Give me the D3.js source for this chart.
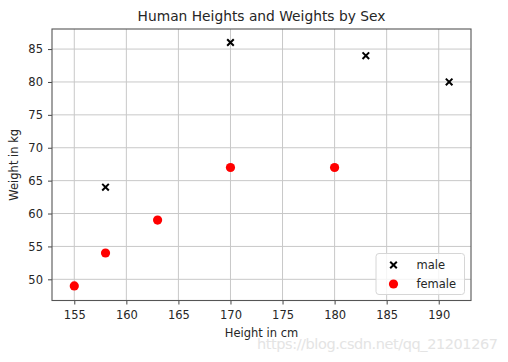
<!DOCTYPE html>
<html>
<head>
<meta charset="utf-8">
<script src="https://cdn.jsdelivr.net/npm/d3@7"></script>
<style>
  body { margin: 0; background: #fff; }
  text { font-family: "DejaVu Sans", sans-serif; fill: #262626; }
</style>
</head>
<body>
<div id="chart"></div>
<script>
// data
const maleHeights = [158, 170, 183, 191];
const maleWeights = [64, 86, 84, 80];
const femaleHeights = [155, 158, 163, 170, 180];
const femaleWeights = [49, 54, 59, 67, 67];
const xTicks = [155, 160, 165, 170, 175, 180, 185, 190];
const yTicks = [50, 55, 60, 65, 70, 75, 80, 85];
const seriesNames = ["male", "female"];

const width = 508, height = 362;
const margin = { top: 29, right: 37, bottom: 61.5, left: 52 };

const svg = d3.select("#chart").append("svg")
  .attr("width", width).attr("height", height);

const x = d3.scaleLinear().domain([152.86, 193.1])
  .range([margin.left, width - margin.right]);
const y = d3.scaleLinear().domain([46.78, 88.05])
  .range([height - margin.bottom, margin.top]);

//grid
svg.append("g").selectAll("line").data(xTicks).join("line")
  .attr("x1", d => x(d)).attr("x2", d => x(d))
  .attr("y1", margin.top).attr("y2", height - margin.bottom)
  .attr("stroke", "#c8c8c8").attr("stroke-width", 1);
svg.append("g").selectAll("line").data(yTicks).join("line")
  .attr("y1", d => y(d)).attr("y2", d => y(d))
  .attr("x1", margin.left).attr("x2", width - margin.right)
  .attr("stroke", "#c8c8c8").attr("stroke-width", 1);

// axes
const xAxis = svg.append("g")
  .attr("transform", `translate(0,${height - margin.bottom})`)
  .call(d3.axisBottom(x).tickValues(xTicks).tickSize(4).tickPadding(6));
const yAxis = svg.append("g")
  .attr("transform", `translate(${margin.left},0)`)
  .call(d3.axisLeft(y).tickValues(yTicks).tickSize(4).tickPadding(5));
[xAxis, yAxis].forEach(g => {
  g.select(".domain").remove();
  g.selectAll("line").attr("stroke", "#444");
  g.selectAll("text").attr("font-size", 11.5)
    .attr("font-family", "DejaVu Sans").attr("fill", "#262626");
});

// frame
svg.append("rect")
  .attr("x", margin.left).attr("y", margin.top)
  .attr("width", width - margin.left - margin.right)
  .attr("height", height - margin.top - margin.bottom)
  .attr("fill", "none").attr("stroke", "#555").attr("stroke-width", 1.1);

const xMark = (cx, cy, s) => `M${cx - s},${cy - s}L${cx + s},${cy + s}M${cx - s},${cy + s}L${cx + s},${cy - s}`;

// male
svg.append("g").selectAll("path").data(maleHeights).join("path")
  .attr("d", (d, i) => xMark(x(d), y(maleWeights[i]), 3.3))
  .attr("stroke", "#000").attr("stroke-width", 2);

// female
svg.append("g").selectAll("circle").data(femaleHeights).join("circle")
  .attr("cx", d => x(d)).attr("cy", (d, i) => y(femaleWeights[i]))
  .attr("r", 4.6).attr("fill", "#ff0000");

// title + labels
svg.append("text").attr("x", (margin.left + width - margin.right) / 2).attr("y", 21)
  .attr("text-anchor", "middle").attr("font-size", 13.8)
  .text("Human Heights and Weights by Sex");
svg.append("text").attr("x", (margin.left + width - margin.right) / 2).attr("y", 337)
  .attr("text-anchor", "middle").attr("font-size", 11.5)
  .text("Height in cm");
svg.append("text")
  .attr("transform", `translate(18,${(margin.top + height - margin.bottom) / 2}) rotate(-90)`)
  .attr("text-anchor", "middle").attr("font-size", 11.5)
  .text("Weight in kg");

// legend
const legend = svg.append("g");
legend.append("rect")
  .attr("x", 376).attr("y", 253.5).attr("width", 88.5).attr("height", 41)
  .attr("rx", 3).attr("fill", "#fff").attr("fill-opacity", 0.8)
  .attr("stroke", "#d6d6d6");
seriesNames.forEach((name, i) => {
  const ly = 265 + i * 19;
  if (i === 0) {
    legend.append("path").attr("d", xMark(393.5, ly, 3.3))
      .attr("stroke", "#000").attr("stroke-width", 2);
  } else {
    legend.append("circle").attr("cx", 393.5).attr("cy", ly).attr("r", 4.6)
      .attr("fill", "#ff0000");
  }
  legend.append("text").attr("x", 416.5).attr("y", ly + 4.2)
    .attr("font-size", 11.5).text(name);
});

// watermark
svg.append("text").attr("x", 257).attr("y", 349)
  .attr("font-family", "Liberation Sans, Arial, sans-serif")
  .attr("font-size", 14.5).attr("textLength", 241)
  .style("fill", "#e4e4e4")
  .text("https://blog.csdn.net/qq_21201267");
</script>
</body>
</html>
